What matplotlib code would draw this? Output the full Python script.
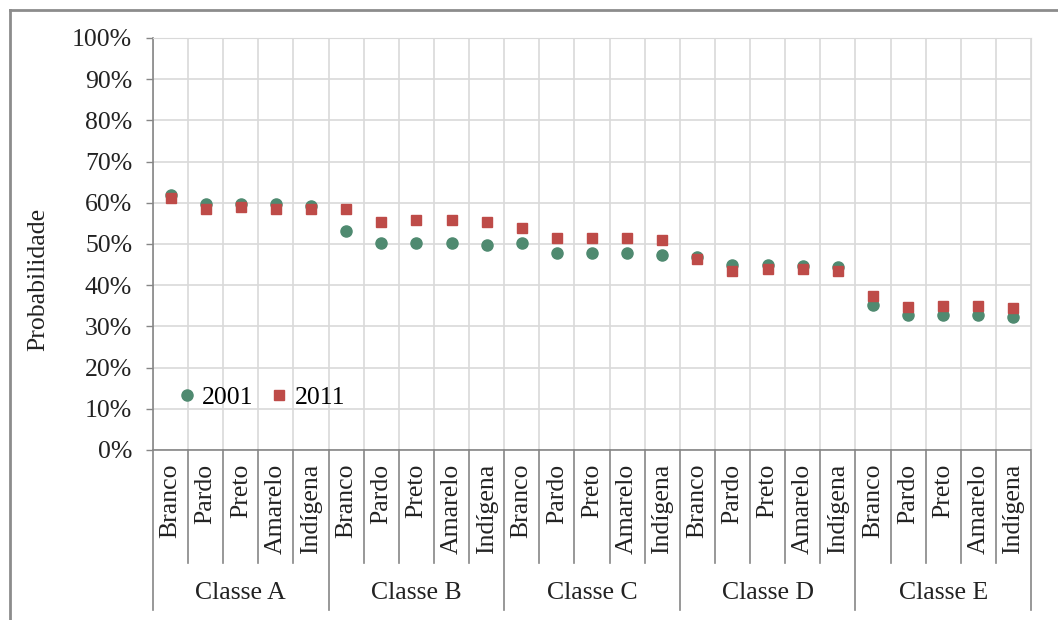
import numpy as np
import matplotlib
matplotlib.use('Agg')
import matplotlib.pyplot as plt
from matplotlib.lines import Line2D
from matplotlib.ticker import FuncFormatter

plt.rcParams['font.family'] = 'Liberation Serif'
plt.rcParams['font.size'] = 18.5

# Probabilidade por classe e cor/raça
classes = ['Classe A', 'Classe B', 'Classe C', 'Classe D', 'Classe E']
racas = ['Branco', 'Pardo', 'Preto', 'Amarelo', 'Indígena']

p2001 = [62.0, 59.8, 59.8, 59.8, 59.3,
         53.2, 50.3, 50.3, 50.3, 49.8,
         50.3, 47.9, 47.9, 47.9, 47.4,
         46.8, 44.8, 44.8, 44.7, 44.3,
         35.3, 32.7, 32.8, 32.8, 32.3]
p2011 = [61.2, 58.4, 59.0, 58.4, 58.4,
         58.4, 55.4, 55.8, 55.8, 55.4,
         54.0, 51.5, 51.5, 51.5, 51.0,
         46.3, 43.4, 44.0, 44.0, 43.4,
         37.3, 34.6, 35.0, 35.0, 34.5]

verde = '#4F8A70'
vermelho = '#BE4B48'
cinza = '#868686'
grade = '#D9D9D9'

fig = plt.figure(figsize=(10.58, 6.2), dpi=100)
ax = fig.add_axes([153/1058, 1-450/620, 878/1058, 412/620])

x = np.arange(len(p2001))
ax.plot(x, np.array(p2001)/100, 'o', color=verde, ms=8, mec=verde, label='2001', zorder=3)
ax.plot(x, np.array(p2011)/100, 's', color=vermelho, ms=6.5, mec=vermelho, label='2011', zorder=4)

ax.set_xlim(-0.5, len(x)-0.5)
ax.set_ylim(0, 1)
ax.set_yticks(np.arange(0, 1.01, 0.1))
ax.yaxis.set_major_formatter(FuncFormatter(lambda v, p: '%d%%' % round(v*100)))
ax.tick_params(axis='y', direction='out', length=5, width=1, color=cinza, pad=10,
               labelcolor='#222222')
ax.set_xticks(np.arange(-0.5, len(x)), minor=False)
ax.tick_params(axis='x', length=0, labelbottom=False)
ax.grid(True, color=grade, lw=1.2, zorder=0)
ax.set_axisbelow(True)
for s in ['top', 'right']:
    ax.spines[s].set_color(grade)
for s in ['left', 'bottom']:
    ax.spines[s].set_color(cinza)
    ax.spines[s].set_linewidth(1.2)

# rótulos do eixo de categorias em dois níveis
trans = ax.get_xaxis_transform()
for i in range(len(x)):
    ax.text(i, -0.033, racas[i % 5], rotation=90, ha='center', va='top',
            transform=trans, clip_on=False, color='#222222')
for b in range(len(x)+1):
    fundo = -0.388 if b % 5 == 0 else -0.274
    ax.plot([b-0.5, b-0.5], [0, fundo], color=cinza, lw=1.2,
            transform=trans, clip_on=False)
for g, nome in enumerate(classes):
    ax.text(g*5+2, -0.347, nome, ha='center', va='center',
            transform=trans, clip_on=False, color='#222222')

ax.set_ylabel('Probabilidade', color='#222222')
ax.yaxis.set_label_coords(-0.118, 0.413)

ax.legend(loc='lower left', bbox_to_anchor=(0.012, 0.075), ncol=2, frameon=False,
          handletextpad=0.1, columnspacing=0.5, handlelength=1.0, borderaxespad=0)

# moldura do gráfico
fig.add_artist(Line2D([10/1058, 1], [1-10/620, 1-10/620], color='#8C8C8C', lw=2))
fig.add_artist(Line2D([10/1058, 10/1058], [0, 1-10/620], color='#8C8C8C', lw=2))

fig.savefig('out.png', dpi=100)
